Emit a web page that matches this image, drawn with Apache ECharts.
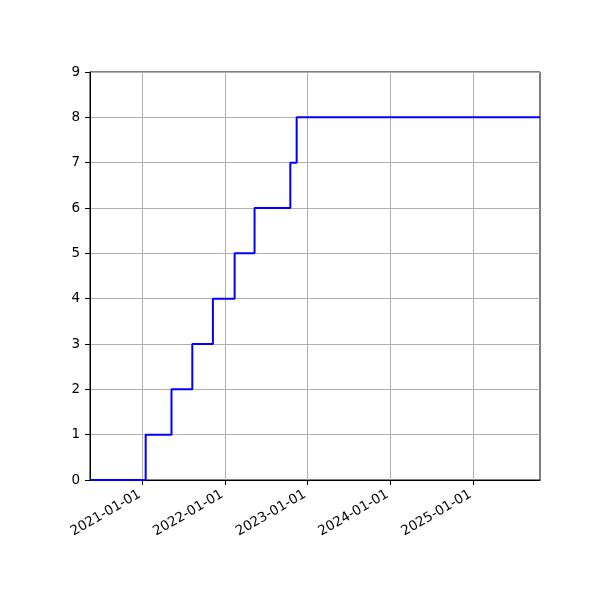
<!DOCTYPE html>
<html>
<head>
<meta charset="utf-8">
<script src="https://cdn.jsdelivr.net/npm/echarts@6/dist/echarts.min.js"></script>
<style>html,body{margin:0;padding:0;background:#fff}#c{width:600px;height:600px}</style>
</head>
<body>
<div id="c"></div>
<script>
const stepDates = ['2020-05-15','2021-01-16','2021-05-10','2021-08-10','2021-11-09','2022-02-13','2022-05-12','2022-10-17','2022-11-14','2025-10-24'];
const stepValues = [0,1,2,3,4,5,6,7,8,8];
const xTickDates = ['2021-01-01','2022-01-01','2023-01-01','2024-01-01','2025-01-01'];
const xMinDate = '2020-05-15';
const xMaxDate = '2025-10-24';
const yTicks = [0,1,2,3,4,5,6,7,8,9];

function ts(s){ const p = s.split('-').map(Number); return Date.UTC(p[0], p[1]-1, p[2]); }
function fmt(v){ const d = new Date(v); const m = String(d.getUTCMonth()+1).padStart(2,'0'); const dd = String(d.getUTCDate()).padStart(2,'0'); return d.getUTCFullYear()+'-'+m+'-'+dd; }

const chart = echarts.init(document.getElementById('c'));
const font = 'DejaVu Sans';
const xTickVals = xTickDates.map(ts);
chart.setOption({
  animation: false,
  grid: {left: 90, right: 60, top: 72, bottom: 120, show: true, borderColor: '#000', borderWidth: 1, backgroundColor: 'transparent'},
  xAxis: {
    type: 'value',
    min: ts(xMinDate), max: ts(xMaxDate),
    axisLine: {show: true, lineStyle: {color: '#000', width: 1}},
    axisTick: {show: true, length: 5, lineStyle: {color: '#000'}, customValues: xTickVals},
    axisLabel: {customValues: xTickVals, formatter: v => fmt(v), rotate: 30, color: '#000', fontSize: 13.5, fontFamily: font, margin: 12, padding: [0, 3, 0, 0]},
    splitLine: {show: true, lineStyle: {color: '#b0b0b0', width: 1}}
  },
  yAxis: {
    type: 'value', min: yTicks[0], max: yTicks[yTicks.length-1], interval: 1,
    axisLine: {show: true, lineStyle: {color: '#000', width: 1}},
    axisTick: {show: true, length: 5, inside: false, lineStyle: {color: '#000'}},
    axisLabel: {color: '#000', fontSize: 13.5, fontFamily: font, margin: 10},
    splitLine: {show: true, lineStyle: {color: '#b0b0b0', width: 1}}
  },
  series: [{
    type: 'line', step: 'end', showSymbol: false,
    data: stepDates.map((d,i) => [ts(d), stepValues[i]]),
    lineStyle: {color: '#0000ff', width: 2},
    itemStyle: {color: '#0000ff'}
  }]
});
</script>
</body>
</html>
